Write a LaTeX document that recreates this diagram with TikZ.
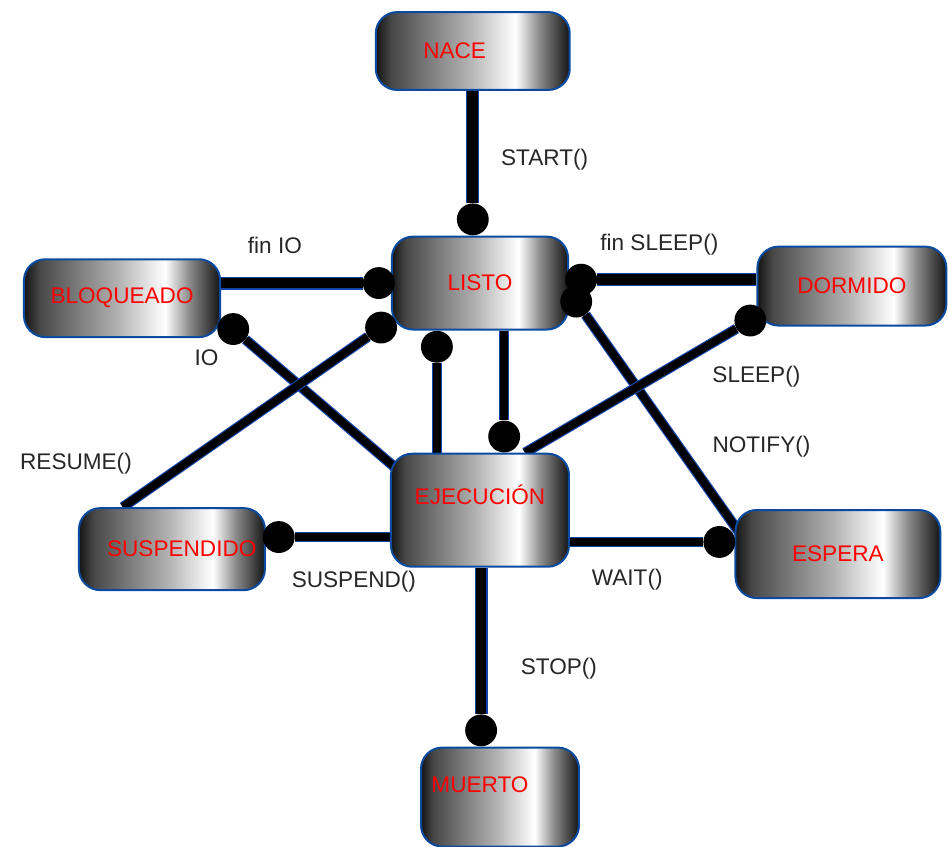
\documentclass[tikz,border=0pt]{standalone}
\usepackage{fontspec}
\setmainfont{Liberation Sans}
\usepackage{xcolor}
\usepackage{tikz}
\usetikzlibrary{positioning,calc,backgrounds}
\definecolor{borde}{RGB}{10,75,160}
\definecolor{enlace}{RGB}{20,70,170}
\pgfdeclarehorizontalshading{metal}{100bp}{color(0bp)=(black!92); color(25bp)=(black!92); color(29bp)=(black!72); color(37bp)=(black!55); color(49bp)=(black!30); color(56bp)=(black!12); color(61bp)=(white); color(67bp)=(black!45); color(75bp)=(black!92); color(100bp)=(black!92)}
\newcommand{\desplaza}[3]{\raisebox{#2}[\height][\depth]{\rlap{\hspace*{#1}#3}\phantom{#3}}}

\begin{document}
\begin{tikzpicture}[estado/.style={on grid,rectangle,rounded corners=16pt,draw=borde,line width=1.5pt,shading=metal,text=red,font=\fontsize{17}{20}\selectfont,inner sep=2pt},
    punto/.style={circle,fill=black,minimum size=24pt,inner sep=0pt},
    enlace/.style={draw=enlace,line width=0.9pt,double=black,double distance=6pt},
    grueso/.style={enlace,double distance=8pt},
    etiq/.style={text=black!85,font=\fontsize{17}{20}\selectfont,inner sep=1pt}]
    \useasboundingbox (-12.70,7.49) rectangle (12.41,-14.92);

    % Estados del hilo
    \node[estado,minimum width=4.66cm,minimum height=2.46cm] (listo) at (0,0) {LISTO};
    \node[estado,minimum width=5.13cm,minimum height=2.06cm,above left=6.14cm and 0.19cm of listo] (nace) {\desplaza{-0.48cm}{0pt}{NACE}};
    \node[estado,minimum width=5.19cm,minimum height=2.06cm,below left=0.40cm and 9.47cm of listo] (bloq) {BLOQUEADO};
    \node[estado,minimum width=5.00cm,minimum height=2.09cm,below right=0.08cm and 9.84cm of listo] (dorm) {DORMIDO};
    \node[estado,minimum width=4.71cm,minimum height=2.99cm,below=6.01cm of listo] (ejec) {\desplaza{0pt}{0.42cm}{EJECUCIÓN}};
    \node[estado,minimum width=4.92cm,minimum height=2.17cm,below left=1.03cm and 8.15cm of ejec] (susp) {\desplaza{0.26cm}{0pt}{SUSPENDIDO}};
    \node[estado,minimum width=5.42cm,minimum height=2.33cm,below right=1.16cm and 9.47cm of ejec] (esp) {ESPERA};
    \node[estado,minimum width=4.18cm,minimum height=2.62cm,below right=7.59cm and 0.53cm of ejec] (muerto) {\desplaza{-0.53cm}{0.32cm}{MUERTO}};

    % Puntos de llegada
    \node[punto,anchor=south] (dStart) at (listo.north -| nace) {};
    \node[punto] (dFinIO) at ([xshift=-0.32cm]listo.west) {};
    \node[punto] (dResume) at ([shift={(-0.26cm,0.08cm)}]listo.south west) {};
    \node[punto,anchor=north] (dEjec) at ([xshift=-1.14cm]listo.south) {};
    \node[punto] (dFinSleep) at ([shift={(0.32cm,0.09cm)}]listo.east) {};
    \node[punto] (dNotify) at ([shift={(0.19cm,-0.49cm)}]listo.east) {};
    \node[punto] (dIO) at ([shift={(0.32cm,0.24cm)}]bloq.south east) {};
    \node[punto] (dSleep) at ([shift={(-0.16cm,0.16cm)}]dorm.south west) {};
    \node[punto,anchor=south] (dListo) at ([xshift=0.64cm]ejec.north) {};
    \node[punto] (dSuspend) at ([shift={(0.34cm,0.32cm)}]susp.east) {};
    \node[punto] (dWait) at ([shift={(-0.40cm,0.32cm)}]esp.west) {};
    \node[punto,anchor=south] (dStop) at ([xshift=-0.5cm]muerto.north) {};

    % Transiciones
    \begin{scope}[on background layer]
    \draw[grueso] (nace.south -| dStart) -- node[etiq,right=0.7cm,yshift=-0.34cm] {START()} (dStart);
    \draw[grueso] (bloq.east |- dFinIO) -- node[etiq,pos=0.38,above=0.72cm] {fin IO} (dFinIO);
    \draw[enlace] (dIO) -- node[etiq,pos=0,xshift=-1.03cm,yshift=-0.48cm] {IO} ([shift={(0.32cm,-0.55cm)}]ejec.north west);
    \draw[enlace] ([xshift=-1.3cm]susp.north) -- node[etiq,pos=0,xshift=-1.24cm,yshift=1.14cm] {RESUME()} (dResume);
    \draw[enlace] (ejec.north -| dEjec) -- (dEjec);
    \draw[enlace] (listo.south -| dListo) -- (dListo);
    \draw[grueso] (dFinSleep) -- node[etiq,pos=0.39,above=0.6cm] {fin SLEEP()} (dorm.west |- dFinSleep);
    \draw[enlace] (dNotify) -- node[etiq,pos=0.55,right=0.85cm] {NOTIFY()} ([xshift=0.53cm]esp.west);
    \draw[enlace] ([xshift=-1.19cm]ejec.north east) -- node[etiq,pos=1,xshift=0.53cm,yshift=-1.27cm] {SLEEP()} (dSleep);
    \draw[enlace] (ejec.west |- dSuspend) -- node[etiq,pos=0.38,below=0.85cm] {SUSPEND()} (dSuspend);
    \draw[enlace] (ejec.east |- dWait) -- node[etiq,pos=0.43,below=0.68cm] {WAIT()} (dWait);
    \draw[grueso] (ejec.south -| dStop) -- node[etiq,pos=0.6,right=1.0cm,yshift=-0.34cm] {STOP()} (dStop);
    \end{scope}
\end{tikzpicture}
\end{document}
